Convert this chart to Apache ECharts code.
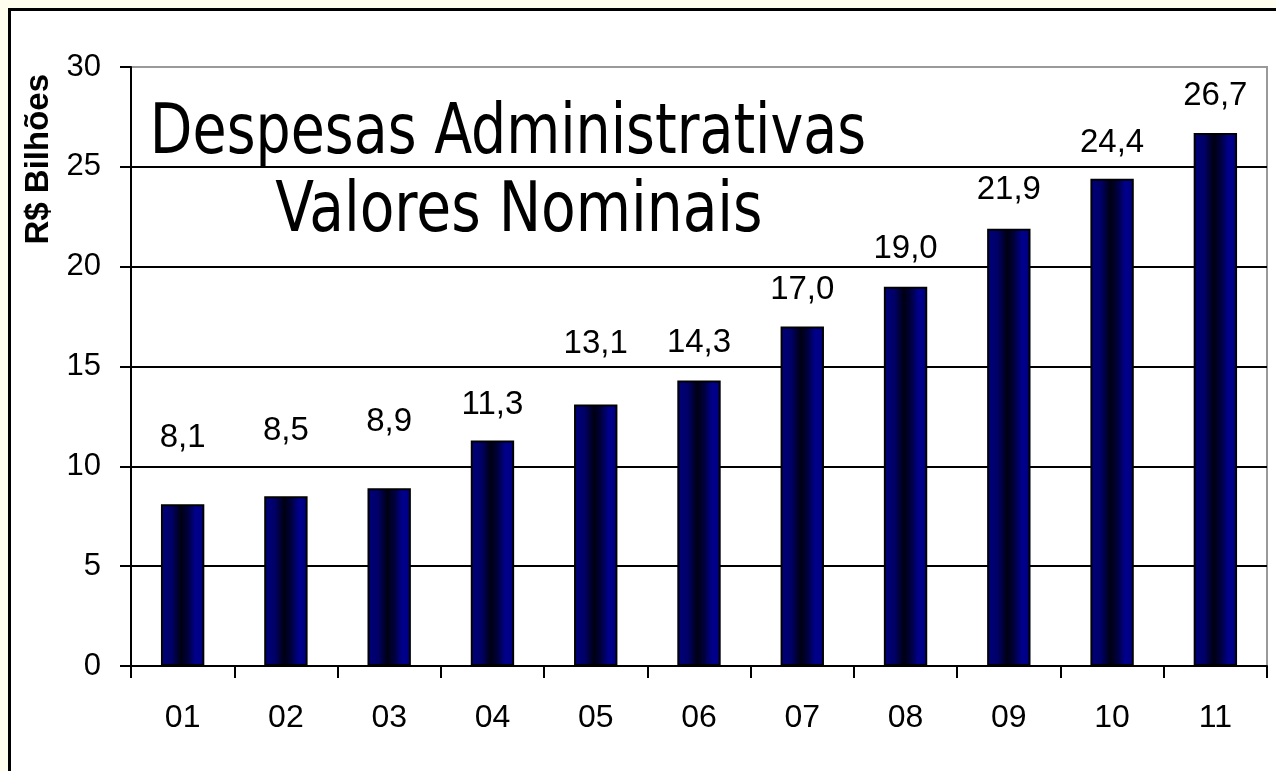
<!DOCTYPE html>
<html>
<head>
<meta charset="utf-8">
<script src="https://cdn.jsdelivr.net/npm/echarts@6/dist/echarts.min.js"></script>
<style>
  html, body { margin: 0; padding: 0; background: #fffeee; }
  #frame { position: absolute; left: 8px; top: 8px; width: 1300px; height: 800px; background: #ffffff; border-left: 3px solid #000; border-top: 3px solid #000; }
  #chart { position: absolute; left: 0; top: 0; width: 1276px; height: 771px; }
</style>
</head>
<body>
<div id="frame"></div>
<div id="chart"></div>
<script>
// ---- data ----
const categories = ['01', '02', '03', '04', '05', '06', '07', '08', '09', '10', '11'];
const values = [8.1, 8.5, 8.9, 11.3, 13.1, 14.3, 17.0, 19.0, 21.9, 24.4, 26.7];
const titleLines = ['Despesas Administrativas', 'Valores Nominais'];
const yAxisName = 'R$ Bilhões';
// ---- layout: how far each value label sits above its bar (px) ----
const labelLift = [50, 49, 50, 19, 44, 21, 20, 21, 22, 19, 20];

const barGradient = {
  type: 'linear', x: 0, y: 0, x2: 1, y2: 0,
  colorStops: [
    { offset: 0, color: '#00007e' },
    { offset: 0.25, color: '#000066' },
    { offset: 0.46, color: '#000012' },
    { offset: 0.62, color: '#00003c' },
    { offset: 0.8, color: '#00008c' },
    { offset: 1, color: '#000080' }
  ]
};

const titleFont = '70px "DejaVu Sans Condensed", "DejaVu Sans", sans-serif';

const chart = echarts.init(document.getElementById('chart'), null, { renderer: 'canvas' });
chart.setOption({
  backgroundColor: 'transparent',
  animation: false,
  graphic: [
    {
      type: 'text', x: 508, y: 135, scaleX: 0.88, z: 10,
      style: { text: titleLines[0], font: titleFont, fill: '#000', align: 'center', verticalAlign: 'middle' }
    },
    {
      type: 'text', x: 519, y: 213, scaleX: 0.9, z: 10,
      style: { text: titleLines[1], font: titleFont, fill: '#000', align: 'center', verticalAlign: 'middle' }
    },
    {
      type: 'text', left: 22, top: 74, rotation: Math.PI / 2,
      style: { text: yAxisName, font: 'bold 33px "Liberation Sans", Arial, sans-serif', fill: '#000' }
    }
  ],
  grid: { left: 131, right: 9, top: 67, bottom: 105, show: true, borderColor: '#999', borderWidth: 2, backgroundColor: 'transparent' },
  xAxis: {
    type: 'category', data: categories,
    axisLine: { lineStyle: { color: '#000', width: 2 } },
    axisTick: { show: true, alignWithLabel: false, length: 12, lineStyle: { color: '#000', width: 2 } },
    axisLabel: { margin: 36, fontFamily: 'Liberation Sans', fontSize: 32, color: '#000' }
  },
  yAxis: {
    type: 'value', min: 0, max: 30, interval: 5,
    axisLine: { show: true, lineStyle: { color: '#000', width: 2 } },
    axisTick: { show: true, length: 11, lineStyle: { color: '#000', width: 2 } },
    axisLabel: { margin: 30, fontFamily: 'Liberation Sans', fontSize: 31, color: '#000' },
    splitLine: { show: true, lineStyle: { color: ['#000', '#000', '#000', '#000', '#000', '#000', '#999'], width: 2 } }
  },
  series: [{
    type: 'bar',
    barWidth: '42%',
    data: values.map((v, i) => ({
      value: v,
      label: { distance: labelLift[i] }
    })),
    itemStyle: { color: barGradient, borderColor: '#000', borderWidth: 2 },
    label: {
      show: true, position: 'top',
      fontFamily: 'Liberation Sans', fontSize: 33, color: '#000',
      formatter: p => p.value.toFixed(1).replace('.', ',')
    }
  }]
});
</script>
</body>
</html>
